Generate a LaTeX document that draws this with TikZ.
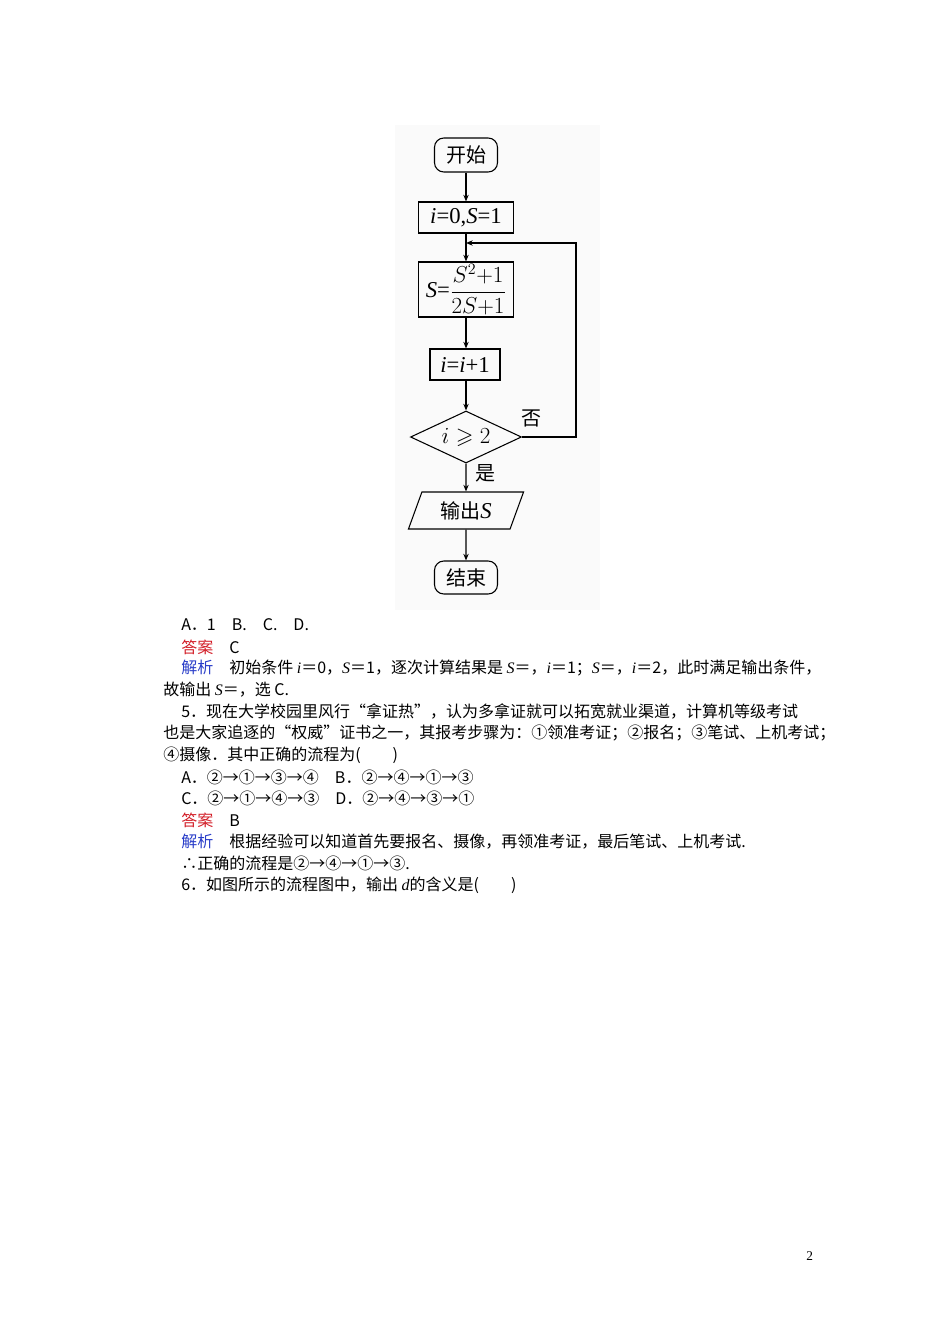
\documentclass[tikz,border=0pt]{standalone}
\usepackage{amsmath,amssymb}
\usepackage{fontspec}
\setmainfont{Liberation Serif}
\newfontfamily\cjk{Noto Sans CJK SC}
\usetikzlibrary{shapes.geometric,arrows.meta}
\definecolor{ansred}{RGB}{210,30,40}
\definecolor{ansblue}{RGB}{40,60,200}
\newcommand{\vi}[1]{{\rmfamily\itshape #1}}
\tikzset{
  box/.style={draw,line width=0.8pt,inner sep=0pt},
  arr/.style={-{Stealth[length=5pt,width=4pt]},line width=0.8pt},
  txt/.style={anchor=west,inner sep=0pt,font=\cjk\fontsize{12}{14}\selectfont},
  fc/.style={font=\cjk\fontsize{15}{18}\selectfont},
  fm/.style={font=\fontsize{17}{20}\selectfont}
}
\begin{document}
\begin{tikzpicture}[x=0.75pt,y=-0.75pt]
\useasboundingbox (0,0) rectangle (950,1344);
\fill[black!2] (395,125) rectangle (600,610);
% flowchart
\node[box,rounded corners=7pt,minimum width=63*0.75pt,minimum height=34*0.75pt,fc] (start) at (466,155) {开始};
\node[box,minimum width=95*0.75pt,minimum height=31*0.75pt,fm] (init) at (466,217.5) {\vi{i}=0,\vi{S}=1};
\node[box,minimum width=95*0.75pt,minimum height=55*0.75pt,fm] (upd) at (466,289.5) {\vi{S}=$\dfrac{S^2{+}1}{2S{+}1}$};
\node[box,minimum width=70*0.75pt,minimum height=31*0.75pt,fm] (inc) at (465,364.5) {\vi{i}=\vi{i}+1};
\node[draw,line width=0.8pt,diamond,aspect=2.13,minimum width=111*0.75pt,minimum height=52*0.75pt,inner sep=0pt,fm] (cond) at (466,437) {$i\geqslant 2$};
\node[draw,line width=0.8pt,trapezium,trapezium left angle=70,trapezium right angle=110,minimum width=109*0.75pt,minimum height=37*0.75pt,inner sep=2pt,fc] (out) at (466,510.5) {输出{\fontsize{17}{20}\selectfont\vi{S}}};
\node[box,rounded corners=7pt,minimum width=63*0.75pt,minimum height=33*0.75pt,fc] (end) at (466,577.5) {结束};
\coordinate (j) at (466,243);
\draw[arr] (start) -- (init);
\draw[line width=0.8pt] (init) -- (j);
\draw[arr] (j) -- (upd);
\draw[arr] (upd) -- (upd|-inc.north);
\draw[arr] (inc.south-|cond) -- (cond);
\draw[arr] (cond) -- (out);
\draw[arr] (out) -- (end);
\draw[arr] (cond.east) -- (576,437) -- (576,243) -- (j);
\node[fc] (no) at (531,418) {否};
\node[fc] (yes) at (485,473) {是};
% text
\node[txt] (l1) at (181,625) {A．1\quad B.\quad C.\quad D.};
\node[txt] (l2) at (181,647) {\textcolor{ansred}{答案}\quad C};
\node[txt] (l3) at (181,668) {\textcolor{ansblue}{解析}\quad 初始条件 \vi{i}＝0，\vi{S}＝1，逐次计算结果是 \vi{S}＝，\vi{i}＝1；\vi{S}＝，\vi{i}＝2，此时满足输出条件，};
\node[txt] (l4) at (163,690) {故输出 \vi{S}＝，选 C.};
\node[txt] (l5) at (181,711) {5．现在大学校园里风行“拿证热”，认为多拿证就可以拓宽就业渠道，计算机等级考试};
\node[txt] (l6) at (163,733) {也是大家追逐的“权威”证书之一，其报考步骤为：①领准考证；②报名；③笔试、上机考试；};
\node[txt] (l7) at (163,755) {④摄像．其中正确的流程为(\qquad)};
\node[txt] (l8) at (181,777) {A．②→①→③→④\quad B．②→④→①→③};
\node[txt] (l9) at (181,798) {C．②→①→④→③\quad D．②→④→③→①};
\node[txt] (l10) at (181,820) {\textcolor{ansred}{答案}\quad B};
\node[txt] (l11) at (181,842) {\textcolor{ansblue}{解析}\quad 根据经验可以知道首先要报名、摄像，再领准考证，最后笔试、上机考试.};
\node[txt] (l12) at (181,863) {∴正确的流程是②→④→①→③.};
\node[txt] (l13) at (181,885) {6．如图所示的流程图中，输出 \vi{d}的含义是(\qquad)};
\node[txt,font=\fontsize{10}{12}\selectfont] (pg) at (806,1256) {2};
\end{tikzpicture}
\end{document}
